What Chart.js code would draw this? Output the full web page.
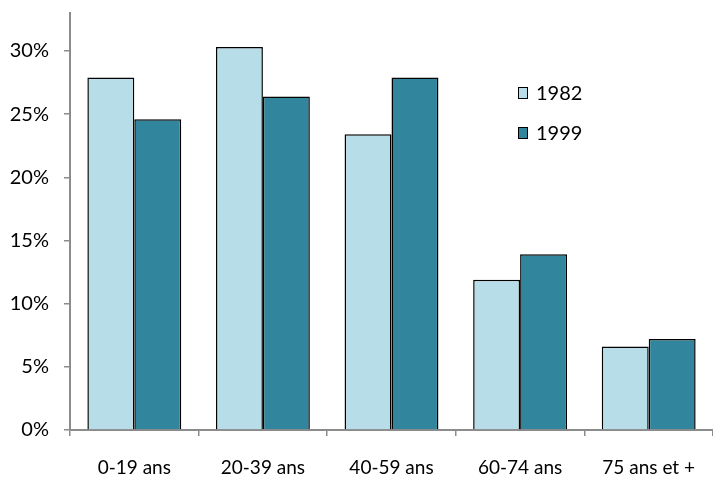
<!DOCTYPE html>
<html>
<head>
<meta charset="utf-8">
<script src="https://cdn.jsdelivr.net/npm/chart.js@4/dist/chart.umd.min.js"></script>
<style>
  html, body { margin: 0; padding: 0; background: #fff; }
  #wrap { width: 713px; height: 477px; position: relative; }
</style>
</head>
<body>
<div id="wrap"><canvas id="c"></canvas></div>
<script>
// Age groups and population shares (%) for the two census years
const categories = ['0-19 ans', '20-39 ans', '40-59 ans', '60-74 ans', '75 ans et +'];
const years = ['1982', '1999'];
const values1982 = [27.9, 30.3, 23.4, 11.9, 6.6];
const values1999 = [24.6, 26.4, 27.9, 13.9, 7.2];
const yTicks = [0, 5, 10, 15, 20, 25, 30];

const FONT = 'Lato, "Open Sans", "Liberation Sans", sans-serif';
const AXIS = '#8c8c8c';

// Legend drawn inside the plot area, top right
const insideLegend = {
  id: 'insideLegend',
  afterDraw(chart) {
    const ctx = chart.ctx;
    ctx.save();
    chart.data.datasets.forEach((ds, i) => {
      const x = 518, y = 93 + i * 40;
      ctx.fillStyle = ds.backgroundColor;
      ctx.fillRect(x, y - 6, 10, 12);
      ctx.strokeStyle = '#000';
      ctx.lineWidth = 1;
      ctx.strokeRect(x + 0.5, y - 5.5, 9, 11);
      ctx.fillStyle = '#000';
      ctx.font = '20px ' + FONT;
      ctx.textBaseline = 'middle';
      ctx.textAlign = 'left';
      ctx.fillText(ds.label, x + 18, y + 1);
    });
    ctx.restore();
  }
};

new Chart(document.getElementById('c'), {
  type: 'bar',
  data: {
    labels: categories,
    datasets: [
      { label: years[0], data: values1982, backgroundColor: '#b7dde8', borderColor: '#000', borderWidth: 1.5 },
      { label: years[1], data: values1999, backgroundColor: '#31859c', borderColor: '#000', borderWidth: 1.5 }
    ]
  },
  options: {
    responsive: true,
    maintainAspectRatio: false,
    animation: false,
    layout: { padding: { top: 13, right: 0, left: 0, bottom: 0 } },
    datasets: { bar: { categoryPercentage: 0.73, barPercentage: 1.0 } },
    plugins: { legend: { display: false }, tooltip: { enabled: false } },
    scales: {
      x: {
        grid: { offset: true, drawOnChartArea: false, drawTicks: true, tickLength: 6, color: AXIS, lineWidth: 1.5 },
        border: { color: AXIS, width: 2 },
        ticks: { color: '#000', font: { family: FONT, size: 19 }, padding: 20, maxRotation: 0 },
        afterFit(scale) { scale.height = 47; scale.paddingLeft = 0; scale.paddingRight = 0; }
      },
      y: {
        min: 0,
        max: 33,
        afterBuildTicks(scale) { scale.ticks = yTicks.map(v => ({ value: v })); },
        grid: { drawOnChartArea: false, drawTicks: true, tickLength: 6, color: AXIS, lineWidth: 1.5 },
        border: { color: AXIS, width: 2 },
        ticks: { color: '#000', font: { family: FONT, size: 20 }, padding: 15, callback: v => v + '%' },
        afterFit(scale) { scale.width = 70; scale.paddingTop = 0; scale.paddingBottom = 0; }
      }
    }
  },
  plugins: [insideLegend]
});
</script>
</body>
</html>
